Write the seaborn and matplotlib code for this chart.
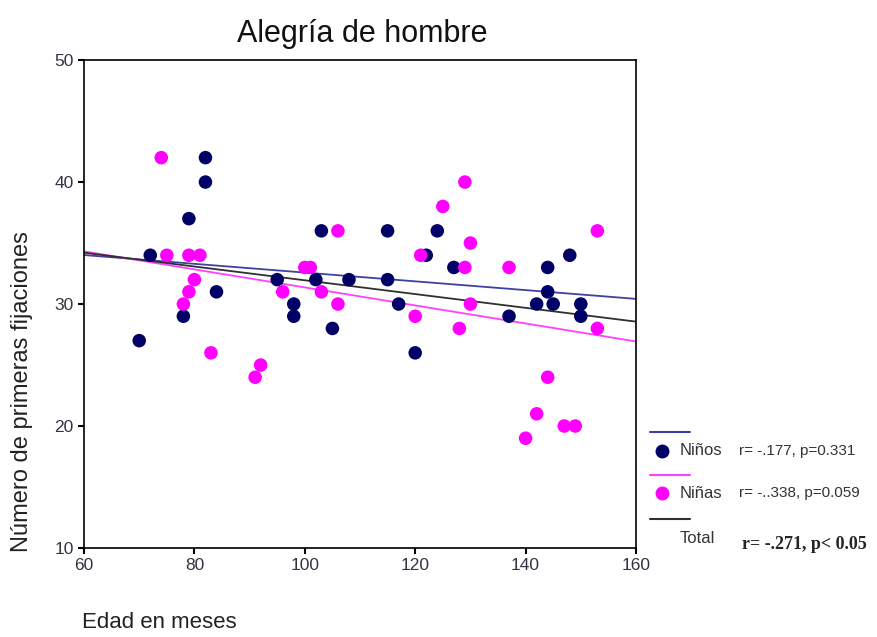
import numpy as np
import pandas as pd
import matplotlib
matplotlib.use("Agg")
import matplotlib.pyplot as plt
from matplotlib.lines import Line2D
import seaborn as sns

# Data
ninos_edad = [70, 72, 78, 79, 82, 82, 84, 95, 98, 98, 102, 103, 105, 108, 115, 115,
              117, 120, 122, 124, 127, 137, 142, 144, 144, 145, 148, 150, 150]
ninos_fij = [27, 34, 29, 37, 42, 40, 31, 32, 30, 29, 32, 36, 28, 32, 36, 32,
             30, 26, 34, 36, 33, 29, 30, 33, 31, 30, 34, 30, 29]
ninas_edad = [74, 75, 78, 79, 79, 80, 81, 83, 91, 92, 96, 100, 101, 103, 106, 106,
              120, 121, 125, 128, 129, 129, 130, 130, 137, 140, 142, 144, 147, 149, 153, 153]
ninas_fij = [42, 34, 30, 34, 31, 32, 34, 26, 24, 25, 31, 33, 33, 31, 36, 30,
             29, 34, 38, 28, 40, 33, 35, 30, 33, 19, 21, 24, 20, 20, 36, 28]
grupos = ["Niños", "Niñas"]
stats_txt = ["r= -.177, p=0.331", "r= -..338, p=0.059", "r= -.271, p< 0.05"]
x_ticks = [60, 80, 100, 120, 140, 160]
y_ticks = [10, 20, 30, 40, 50]

df = pd.DataFrame({
    "edad": ninos_edad + ninas_edad,
    "fij": ninos_fij + ninas_fij,
    "grupo": [grupos[0]] * len(ninos_edad) + [grupos[1]] * len(ninas_edad),
})

sns.set_style("white")
plt.rcParams["font.family"] = ["Liberation Sans", "DejaVu Sans"]

dot_colors = {"Niños": "#000066", "Niñas": "#FF00FF"}
line_colors = {"Niños": "#4040A0", "Niñas": "#FF40FF", "Total": "#303030"}

fig = plt.figure(figsize=(8.77, 6.37), dpi=100)
ax = fig.add_axes([0.0958, 0.1397, 0.6294, 0.766])
ax.set_xlim(60, 160)
ax.set_ylim(10, 50)

# regression lines (full axis range)
for g in grupos:
    sub = df[df["grupo"] == g]
    sns.regplot(data=sub, x="edad", y="fij", ax=ax, scatter=False, ci=None,
                truncate=False, color=line_colors[g], line_kws={"lw": 1.3})
sns.regplot(data=df, x="edad", y="fij", ax=ax, scatter=False, ci=None,
            truncate=False, color=line_colors["Total"], line_kws={"lw": 1.3})

sns.scatterplot(data=df, x="edad", y="fij", hue="grupo", palette=dot_colors,
                s=95, edgecolor="none", legend=False, ax=ax, zorder=3)

ax.set_xlim(60, 160)
ax.set_ylim(10, 50)
ax.set_xticks(x_ticks)
ax.set_yticks(y_ticks)
ax.set_xlabel("")
ax.set_ylabel("")
for s in ax.spines.values():
    s.set_color("black")
    s.set_linewidth(1.2)
ax.tick_params(axis="both", which="both", direction="out", length=4, width=1.5,
               color="black", labelsize=12.5, bottom=True, left=True,
               labelcolor="#333344")

fig.text(0.413, 0.934, "Alegría de hombre", ha="center", va="baseline",
         fontsize=22, color="#111111")
fig.text(0.025, 0.386, "Número de primeras fijaciones", rotation=90,
         ha="center", va="center", fontsize=17, color="#222222")
fig.text(0.094, 0.022, "Edad en meses", ha="left", va="center", fontsize=16,
         color="#222222")

# legend block on the right
legend_rows = [("Niños", 0.322, 0.292), ("Niñas", 0.255, 0.226)]
for g, ly, my in legend_rows:
    fig.add_artist(Line2D([0.741, 0.787], [ly, ly], color=line_colors[g], lw=1.5,
                          transform=fig.transFigure))
    fig.add_artist(Line2D([0.755], [my], marker="o", ms=9, color=dot_colors[g],
                          ls="none", transform=fig.transFigure))
    fig.text(0.775, my, g, ha="left", va="center", fontsize=12, color="#333333")
fig.text(0.843, 0.292, stats_txt[0], ha="left", va="center", fontsize=11, color="#333333")
fig.text(0.843, 0.226, stats_txt[1], ha="left", va="center", fontsize=11, color="#333333")
fig.add_artist(Line2D([0.741, 0.787], [0.185, 0.185], color=line_colors["Total"], lw=1.5,
                      transform=fig.transFigure))
fig.text(0.775, 0.155, "Total", ha="left", va="center", fontsize=12, color="#333333")
fig.text(0.846, 0.145, stats_txt[2], ha="left", va="center", fontsize=13,
         fontweight="bold", family=["Liberation Serif", "DejaVu Serif"])

fig.savefig("out.png", dpi=100)
